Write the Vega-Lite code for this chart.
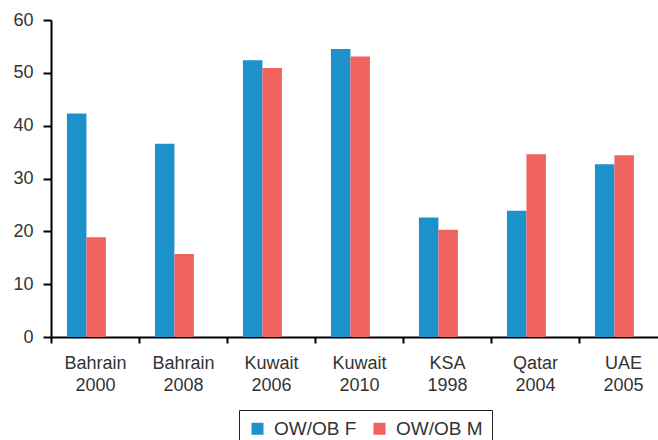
{
  "$schema": "https://vega.github.io/schema/vega-lite/v6.json",
  "autosize": "none",
  "width": 616,
  "height": 317,
  "padding": {"left": 51, "top": 20, "right": 0, "bottom": 103},
  "background": "white",
  "config": {
    "view": {"stroke": null},
    "font": "Liberation Sans",
    "axis": {"grid": false, "domainColor": "#000", "domainWidth": 2, "tickColor": "#000", "tickWidth": 2, "labelColor": "#333", "labelFontSize": 18, "labelFont": "Liberation Sans", "title": null}
  },
  "data": {
    "values": [
      {"cat": "Bahrain 2000", "series": "OW/OB F", "value": 42.3},
      {"cat": "Bahrain 2000", "series": "OW/OB M", "value": 18.9},
      {"cat": "Bahrain 2008", "series": "OW/OB F", "value": 36.6},
      {"cat": "Bahrain 2008", "series": "OW/OB M", "value": 15.7},
      {"cat": "Kuwait 2006", "series": "OW/OB F", "value": 52.4},
      {"cat": "Kuwait 2006", "series": "OW/OB M", "value": 50.9},
      {"cat": "Kuwait 2010", "series": "OW/OB F", "value": 54.5},
      {"cat": "Kuwait 2010", "series": "OW/OB M", "value": 53.1},
      {"cat": "KSA 1998", "series": "OW/OB F", "value": 22.6},
      {"cat": "KSA 1998", "series": "OW/OB M", "value": 20.3},
      {"cat": "Qatar 2004", "series": "OW/OB F", "value": 23.9},
      {"cat": "Qatar 2004", "series": "OW/OB M", "value": 34.6},
      {"cat": "UAE 2005", "series": "OW/OB F", "value": 32.7},
      {"cat": "UAE 2005", "series": "OW/OB M", "value": 34.4}
    ]
  },
  "mark": {"type": "bar"},
  "encoding": {
    "x": {
      "field": "cat", "type": "nominal", "sort": null,
      "scale": {"paddingInner": 0, "paddingOuter": 0},
      "axis": {"labelAngle": 0, "labelExpr": "split(datum.label, ' ')", "labelLineHeight": 22, "tickBand": "extent", "tickSize": 6, "labelPadding": 11, "labelBaseline": "top"}
    },
    "xOffset": {
      "field": "series", "type": "nominal",
      "scale": {"domain": ["OW/OB F", "OW/OB M", "_"], "paddingInner": 0, "paddingOuter": 0.756, "align": 0.54}
    },
    "y": {
      "field": "value", "type": "quantitative",
      "scale": {"domain": [0, 60], "nice": false},
      "axis": {"values": [0, 10, 20, 30, 40, 50, 60], "tickSize": 8, "labelPadding": 10}
    },
    "color": {
      "field": "series", "type": "nominal",
      "scale": {"domain": ["OW/OB F", "OW/OB M"], "range": ["#1D92CA", "#EF635E"]},
      "legend": {
        "title": null, "orient": "none", "legendX": 188, "legendY": 390, "direction": "horizontal",
        "symbolType": "square", "symbolSize": 144, "symbolStrokeWidth": 0, "symbolOpacity": 1,
        "labelFontSize": 19, "labelColor": "#333", "labelFont": "Liberation Sans",
        "strokeColor": "#222", "padding": 9, "columnPadding": 13, "labelOffset": 7
      }
    }
  }
}
